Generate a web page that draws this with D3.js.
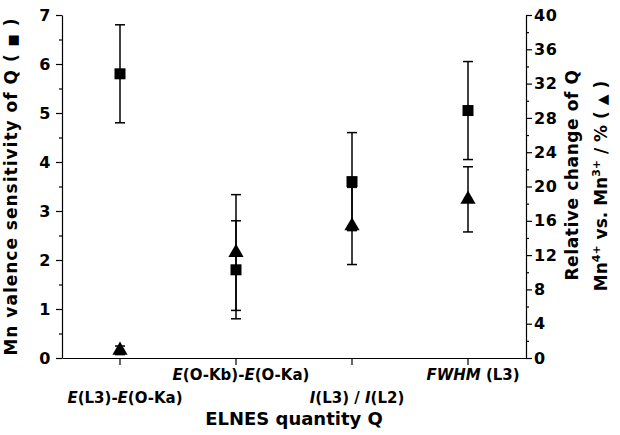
<!DOCTYPE html>
<html><head><meta charset="utf-8">
<script src="https://cdn.jsdelivr.net/npm/d3@7"></script>
<style>
body{margin:0;background:#fff}
svg{display:block}
text{font-family:"DejaVu Sans",sans-serif;font-weight:bold;fill:#000}
</style>
</head><body>
<svg id="c" width="620" height="435"></svg>
<script>
// ---- data ----
const categories = ["E(L3)-E(O-Ka)", "E(O-Kb)-E(O-Ka)", "I(L3) / I(L2)", "FWHM (L3)"];
// rich label segments: [text, italic]
const categoryLabelParts = [
  [["E", true], ["(L3)-", false], ["E", true], ["(O-Ka)", false]],
  [["E", true], ["(O-Kb)-", false], ["E", true], ["(O-Ka)", false]],
  [["I", true], ["(L3) / ", false], ["I", true], ["(L2)", false]],
  [["FWHM", true], [" (L3)", false]]
];
const sensitivity = [5.8, 1.8, 3.6, 5.05];
const sensitivityErr = [1.0, 1.0, 1.0, 1.0];
const relChange = [0.9, 12.3, 15.4, 18.5];
const relChangeErr = [0.5, 6.75, 4.5, 3.8];
const leftTicks = [0, 1, 2, 3, 4, 5, 6, 7];
const leftMinorTicks = [0.5, 1.5, 2.5, 3.5, 4.5, 5.5, 6.5];
const rightTicks = [0, 4, 8, 12, 16, 20, 24, 28, 32, 36, 40];
const rightMinorTicks = [2, 6, 10, 14, 18, 22, 26, 30, 34, 38];

// ---- layout ----
const L = 62, R = 526, T = 15, B = 358;
const svg = d3.select("#c");

const x = d3.scaleBand().domain(categories).range([L, R]);
const cx = c => x(c) + x.bandwidth() / 2;
const yL = d3.scaleLinear().domain([0, 7]).range([B, T]);
const yR = d3.scaleLinear().domain([0, 40]).range([B, T]);

function styleAxis(g) {
  g.selectAll("path,line").attr("stroke", "#000").attr("stroke-width", 1.2);
  g.selectAll("text").style("font-family", "DejaVu Sans").style("font-weight", "bold")
    .style("font-size", "16px").style("letter-spacing", "0.5px").attr("fill", "#000");
}

// left axis
svg.append("g").attr("transform", `translate(${L},0)`)
  .call(d3.axisLeft(yL).tickValues(leftTicks).tickSize(6).tickSizeOuter(0).tickPadding(5).tickFormat(d3.format("d")))
  .call(styleAxis);
svg.append("g").attr("transform", `translate(${L},0)`)
  .call(d3.axisLeft(yL).tickValues(leftMinorTicks).tickSize(3).tickFormat(""))
  .call(g => g.select(".domain").remove()).call(styleAxis);

// right axis
svg.append("g").attr("transform", `translate(${R},0)`)
  .call(d3.axisRight(yR).tickValues(rightTicks).tickSize(6).tickSizeOuter(0).tickPadding(2).tickFormat(d3.format("d")))
  .call(styleAxis);
svg.append("g").attr("transform", `translate(${R},0)`)
  .call(d3.axisRight(yR).tickValues(rightMinorTicks).tickSize(3).tickFormat(""))
  .call(g => g.select(".domain").remove()).call(styleAxis);

// bottom axis
svg.append("g").attr("transform", `translate(0,${B})`)
  .call(d3.axisBottom(x).tickSize(7).tickSizeOuter(0).tickFormat(""))
  .call(styleAxis);

// category labels (alternating rows)
categories.forEach((c, i) => {
  const t = svg.append("text")
    .attr("x", cx(c) + 5)
    .attr("y", i % 2 === 0 ? 403 : 380)
    .attr("text-anchor", "middle")
    .style("font-size", "15px");
  categoryLabelParts[i].forEach(([s, it]) => {
    t.append("tspan").text(s).style("font-style", it ? "italic" : "normal");
  });
});

// axis titles
svg.append("text").attr("x", (L + R) / 2).attr("y", 425).attr("text-anchor", "middle")
  .style("font-size", "18px").text("ELNES quantity Q");

const lt = svg.append("text")
  .attr("transform", `translate(17,${(T + B) / 2}) rotate(-90)`)
  .attr("text-anchor", "middle").style("font-size", "17px").style("letter-spacing", "1px");
lt.append("tspan").text("Mn valence sensitivity of Q (   ");
lt.append("tspan").text("■").style("font-size", "13px");
lt.append("tspan").text("   )");

svg.append("text")
  .attr("transform", `translate(578,175) rotate(-90)`)
  .attr("text-anchor", "middle").style("font-size", "17px").style("letter-spacing", "0.6px")
  .text("Relative change of Q");

const rt = svg.append("text")
  .attr("transform", `translate(607,186) rotate(-90)`)
  .attr("text-anchor", "middle").style("font-size", "17px");
rt.append("tspan").text("Mn");
rt.append("tspan").text("4+").attr("dy", -7).style("font-size", "11px");
rt.append("tspan").text(" vs. Mn").attr("dy", 7);
rt.append("tspan").text("3+").attr("dy", -7).style("font-size", "11px");
rt.append("tspan").text(" / % (  ").attr("dy", 7);
rt.append("tspan").text("▲").style("font-size", "14px");
rt.append("tspan").text("  )");

// error bars
function errorBars(vals, errs, y) {
  const g = svg.append("g").attr("stroke", "#000").attr("stroke-width", 1.5);
  categories.forEach((c, i) => {
    const X = cx(c), y1 = y(vals[i] + errs[i]), y0 = y(vals[i] - errs[i]);
    g.append("line").attr("x1", X).attr("x2", X).attr("y1", y1).attr("y2", y0);
    g.append("line").attr("x1", X - 5).attr("x2", X + 5).attr("y1", y1).attr("y2", y1);
    g.append("line").attr("x1", X - 5).attr("x2", X + 5).attr("y1", y0).attr("y2", y0);
  });
}
errorBars(relChange, relChangeErr, yR);
errorBars(sensitivity, sensitivityErr, yL);

// markers
svg.append("g").selectAll("path").data(relChange).join("path")
  .attr("transform", (d, i) => `translate(${cx(categories[i])},${yR(d)})`)
  .attr("d", d3.symbol(d3.symbolTriangle, 100)).attr("fill", "#000");
svg.append("g").selectAll("path").data(sensitivity).join("path")
  .attr("transform", (d, i) => `translate(${cx(categories[i])},${yL(d)})`)
  .attr("d", d3.symbol(d3.symbolSquare, 121)).attr("fill", "#000");
</script>
</body></html>
